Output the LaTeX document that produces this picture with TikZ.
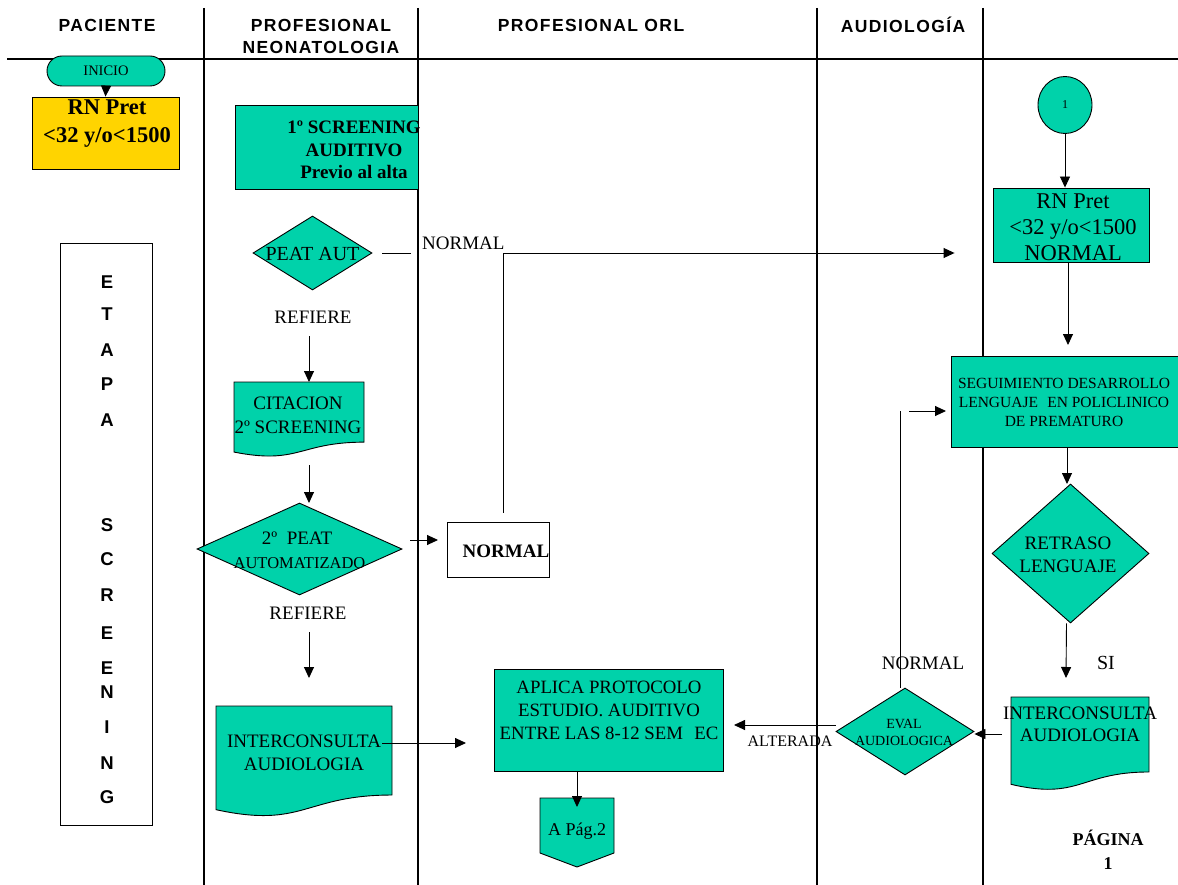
\documentclass[tikz,border=0pt]{standalone}
\usepackage{fontspec}
\setmainfont{Liberation Serif}
\newfontfamily\hdrfont[LetterSpace=8]{Liberation Sans}
\newfontfamily\etfont{Liberation Sans}
\usetikzlibrary{shapes.geometric,arrows.meta}
\definecolor{teal1}{RGB}{0,210,170}
\definecolor{gold1}{RGB}{255,212,0}
\newcommand\docpath[4]{%
  \path[shp] (#1,#2) -- (#3,#2) -- (#3,{#2+0.802*#4})
    .. controls ({(#1+#3)/2},{#2+0.802*#4}) and ({(#1+#3)/2},{#2+1.107*#4}) ..
    (#1,{#2+0.934*#4}) -- cycle;}
\newcommand\fs[1]{\fontsize{#1}{#1}\selectfont}
\begin{document}
\begin{tikzpicture}[x=1pt,y=-1pt,
  lane/.style={line width=1.4pt},
  shp/.style={draw=black, fill=teal1, line width=0.9pt},
  boxst/.style={shp, rectangle, inner sep=0pt},
  dia/.style={shp, diamond, inner sep=0pt},
  frame/.style={inner sep=0pt, draw=none, rectangle},
  arr/.style={-{Triangle[length=11pt,width=10pt]}, line width=0.9pt},
  ln/.style={line width=0.9pt},
  txt/.style={align=center, inner sep=0pt, font=\fs{19}, text depth=0pt},
  hdr/.style={align=center, inner sep=0pt, font=\hdrfont\bfseries\fontsize{17.5}{22}\selectfont},
  etl/.style={inner sep=0pt, font=\etfont\bfseries\fs{18.5}},
]
\fill[white] (0,0) rectangle (1178,885);
\useasboundingbox (0,0) rectangle (1178,885);

% swimlanes
\draw[lane] (204,8) -- (204,885);
\draw[lane] (418,8) -- (418,885);
\draw[lane] (817,8) -- (817,885);
\draw[lane] (983,8) -- (983,885);
\draw[lane] (7,59) -- (1178,59);

% headers
\node[hdr] (hpac) at (107,25) {PACIENTE};
\node[hdr, text depth=0pt] (hneo) at (321,36) {PROFESIONAL\\NEONATOLOGIA};
\node[hdr] (horl) at (591,25) {PROFESIONAL ORL};
\node[hdr] (haud) at (903,25) {AUDIOLOGÍA};

% PACIENTE lane
\node[shp, rectangle, rounded corners=15pt, minimum width=118pt, minimum height=30pt,
      inner sep=0pt, font=\fs{14.5}] (ini) at (106,71) {INICIO};
\node[draw=black, fill=gold1, line width=0.9pt, minimum width=147pt, minimum height=72pt, inner sep=0pt] (rn) at (105.5,133) {};
\node[txt, font=\bfseries\fontsize{22.5}{28}\selectfont] (rnt) at (107,121) {RN Pret\\<32 y/o<1500};

\node[draw=black, line width=0.9pt, minimum width=92pt, minimum height=582pt, inner sep=0pt] (etapa) at (106,534) {};
\foreach \l/\y in {E/282,T/314,A/350,P/384,A/420,S/525,C/559,R/595,E/633,E/668,N/692,I/727,N/763,G/797}
  \node[etl] at (107,\y) {\l};

% NEONATOLOGIA lane
\node[boxst, minimum width=183pt, minimum height=84pt] (scr) at (326.5,147) {};
\node[txt, font=\bfseries\fontsize{19}{22.5}\selectfont] (scrt) at (354,150) {1º SCREENING\\AUDITIVO\\Previo al alta};

\node[dia, minimum width=119pt, minimum height=74pt] (peat) at (312.5,253) {};
\node[txt, font=\fs{20}] at (312.5,254) {PEAT AUT};

\node[txt] (ref1) at (313,317) {REFIERE};

\docpath{234}{382}{364}{75}
\node[frame, minimum width=130pt, minimum height=75pt] (cit) at (299,419.5) {};
\node[txt, font=\fontsize{19}{24}\selectfont] (citt) at (298,415) {CITACION\\2º SCREENING};

\node[dia, minimum width=205pt, minimum height=92pt] (peat2) at (299.5,549) {};
\node[txt] (p2a) at (297,538) {2º\hspace{0.5em}PEAT};
\node[txt, font=\fs{16.5}] (p2b) at (299.5,563) {AUTOMATIZADO};

\node[txt] (ref2) at (308,613) {REFIERE};

\docpath{216}{706}{392}{111}
\node[frame, minimum width=176pt, minimum height=111pt] (intl) at (304,761.5) {};
\node[txt, font=\fontsize{19}{23}\selectfont] (intlt) at (304,753) {INTERCONSULTA\\AUDIOLOGIA};

% ORL lane
\node[txt, anchor=west] (nl1) at (422,243) {NORMAL};
\node[draw=black, fill=white, line width=0.9pt, minimum width=102pt, minimum height=55pt, inner sep=0pt] (nrm) at (498,549.5) {};
\node[txt, font=\bfseries\fs{19}] (nrmt) at (506,551) {NORMAL};

\node[boxst, minimum width=229pt, minimum height=102pt] (apl) at (609,720) {};
\node[txt, font=\fontsize{18.8}{23}\selectfont] (aplt) at (609,710.5) {APLICA PROTOCOLO\\ESTUDIO. AUDITIVO\\ENTRE LAS 8-12 SEM\hspace{0.6em}EC};

\path[shp] (540,798) -- (614,798) -- (614,853) -- (577,867) -- (540,853) -- cycle;
\node[frame, minimum width=74pt, minimum height=69pt] (pag) at (577,832.5) {};
\node[txt, font=\fs{18}] (pagt) at (577,829) {A Pág.2};

% AUDIOLOGIA lane
\node[dia, minimum width=138pt, minimum height=87pt] (eval) at (905,731.5) {};
\node[txt, font=\fontsize{14}{17}\selectfont] (evalt) at (904,732) {EVAL\\AUDIOLOGICA};
\node[txt, font=\fs{16}] (alt) at (790,741) {ALTERADA};
\node[txt] (nl2) at (923,663) {NORMAL};

% right lane
\node[shp, ellipse, minimum width=54pt, minimum height=57pt, inner sep=0pt, font=\fs{12}] (one) at (1065,105) {1};
\node[boxst, minimum width=156pt, minimum height=74pt] (rnn) at (1071,225) {};
\node[txt, font=\fontsize{22.5}{26}\selectfont] (rnnt) at (1073,227) {RN Pret\\<32 y/o<1500\\NORMAL};

\node[boxst, minimum width=227pt, minimum height=91pt] (seg) at (1064.5,401.5) {};
\node[txt, font=\fontsize{15.5}{19}\selectfont] (segt) at (1064,402.5) {SEGUIMIENTO DESARROLLO\\LENGUAJE\hspace{0.6em}EN POLICLINICO\\DE PREMATURO};

\node[dia, minimum width=157pt, minimum height=139pt] (ret) at (1070.5,553.5) {};
\node[txt, font=\fontsize{19}{23}\selectfont] (rett) at (1068,555) {RETRASO\\LENGUAJE};

\node[txt, font=\fs{20}] (si) at (1106,663) {SI};

\docpath{1011}{697}{1149}{93.5}
\node[frame, minimum width=138pt, minimum height=93.5pt] (intr) at (1080,743.75) {};
\node[txt, font=\fontsize{19}{22}\selectfont] (intrt) at (1080,724.5) {INTERCONSULTA\\AUDIOLOGIA};

\node[txt, font=\bfseries\fontsize{18}{24}\selectfont] (pg) at (1108,850) {PÁGINA\\1};

% connectors
\coordinate (intlout) at (382,743);
\coordinate (aplout) at (577,771);
\coordinate (pagin) at (577,807);
\draw[arr] (ini.south) -- (rn.north);
\draw[ln] ([xshift=10pt]peat.east) -- ++(29,0);
\draw[arr, shorten <=9pt, shorten >=38pt] ([xshift=5pt]nrm.north) |- (rnn.west |- peat.east);
\draw[arr] (309,336) -- (309,382);
\draw[arr] (309,465) -- (309,503);
\draw[arr] (410,540) -- (438,540);
\draw[arr] (309,632) -- (309,678);
\draw[arr] (intlout) -- (466,743);
\draw[arr] (aplout) -- (pagin);
\draw[arr] (one.south) -- (rnn.north -| one.south);
\draw[arr] (1068,262) -- (1068,345);
\draw[arr] (1067,447) -- (1067,484);
\draw[arr] (ret.south) ++(-4,0) -- (1066,678);
\draw[arr] (1002,734) -- (eval.east |- 0,734);
\draw[arr] (eval.west |- 0,725) -- (734,725);
\draw[ln] ([xshift=-5pt]eval.north) -- (900,411);
\draw[arr] (909,411) -- (946,411);
\end{tikzpicture}
\end{document}
